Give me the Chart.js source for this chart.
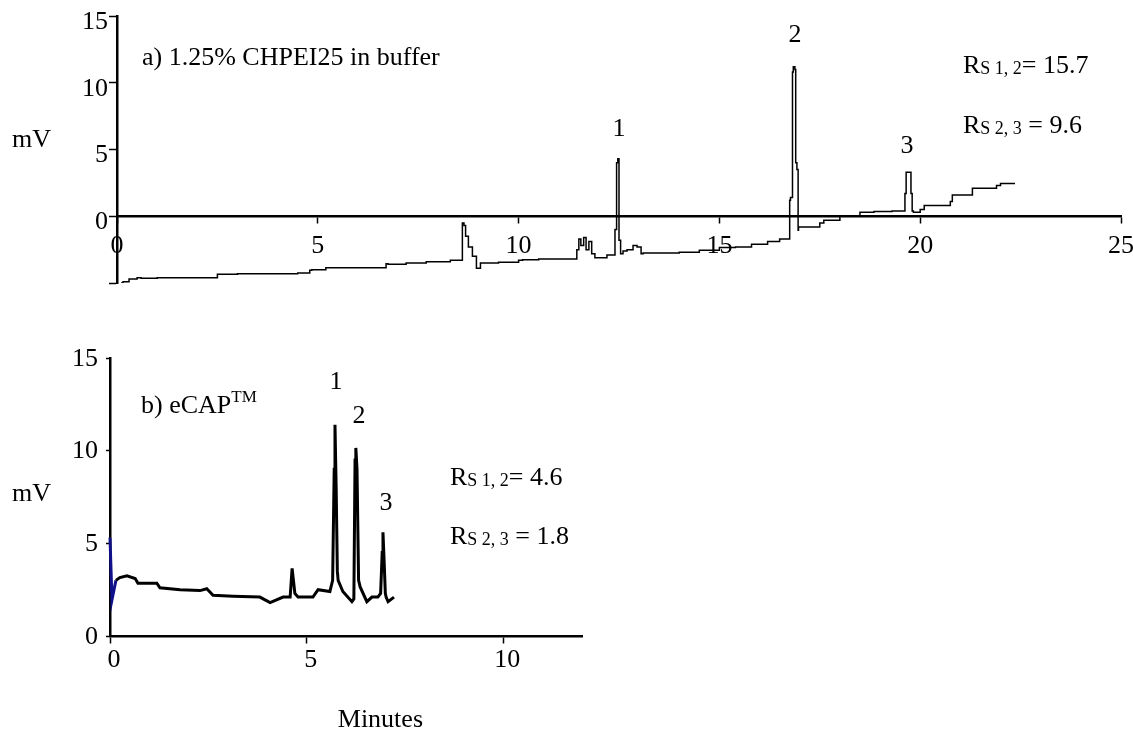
<!DOCTYPE html>
<html>
<head>
<meta charset="utf-8">
<script src="https://cdn.jsdelivr.net/npm/chart.js@4.4.1/dist/chart.umd.min.js"></script>
<style>
  body { margin: 0; background: #fff; }
  .panel { position: absolute; left: 0; }
  #wrapA { top: 0; }
  #wrapB { top: 330px; }
</style>
</head>
<body>
<div class="panel" id="wrapA"><canvas id="chartA" width="1133" height="310"></canvas></div>
<div class="panel" id="wrapB"><canvas id="chartB" width="1133" height="403"></canvas></div>
<script>
// panel a) 1.25% CHPEI25 in buffer
const topTime = [0.12, 0.15, 0.3, 0.5, 0.6, 1.0, 1.5, 2.0, 2.5, 2.55, 3.0, 3.5, 4.0, 4.5, 4.8, 4.85, 5.2, 5.5,
  6.0, 6.7, 6.75, 7.2, 7.7, 8.3, 8.6, 8.64, 8.68, 8.75, 8.85, 8.95, 9.05, 9.1, 9.5, 10.0, 10.1, 10.5, 11.0,
  11.45, 11.5, 11.55, 11.62, 11.68, 11.75, 11.82, 11.9, 12.0, 12.2, 12.4, 12.44, 12.47, 12.5, 12.54, 12.6,
  12.7, 12.85, 12.95, 13.05, 13.1, 13.5, 14.0, 14.5, 15.0, 15.4, 15.8, 16.2, 16.5, 16.75, 16.77, 16.82,
  16.84, 16.88, 16.9, 16.93, 16.96, 16.97, 17.13, 17.5, 17.6, 18.0, 18.5, 18.85, 19.3, 19.62, 19.65, 19.67,
  19.77, 19.8, 19.83, 20.0, 20.1, 20.3, 20.75, 20.8, 21.3, 21.9, 22.0, 22.36];
const topMv = [-5.9, -5.0, -4.9, -4.7, -4.6, -4.65, -4.6, -4.6, -4.6, -4.35, -4.35, -4.3, -4.3, -4.3, -4.25,
  -4.05, -4.0, -3.85, -3.85, -3.85, -3.55, -3.6, -3.5, -3.4, -3.3, -0.5, -0.7, -1.5, -2.3, -3.0, -3.9, -3.5,
  -3.5, -3.45, -3.3, -3.25, -3.2, -3.2, -2.5, -1.7, -2.2, -1.6, -2.5, -1.9, -2.8, -3.1, -3.1, -2.9, -1.0,
  4.0, 4.3, -1.8, -2.8, -2.6, -2.5, -2.2, -2.3, -2.8, -2.75, -2.75, -2.7, -2.55, -2.35, -2.3, -2.1, -1.9,
  -1.7, 1.2, 1.4, 10.8, 11.2, 11.0, 4.0, 3.5, -1.05, -0.8, -0.8, -0.5, -0.3, 0.0, 0.3, 0.35, 0.4, 1.7, 3.3,
  3.3, 1.7, 0.4, 0.3, 0.5, 0.8, 0.8, 1.1, 1.6, 2.1, 2.3, 2.45];

// panel b) eCAP
const blueTime = [0.0, 0.05, 0.15];
const blueMv = [5.3, 1.95, 3.0];
const bottomTime = [0.15, 0.25, 0.43, 0.64, 0.71, 1.19, 1.27, 1.78, 2.29, 2.46, 2.62, 3.13, 3.81, 4.07, 4.4,
  4.58, 4.63, 4.7, 4.78, 5.16, 5.29, 5.59, 5.66, 5.7, 5.72, 5.75, 5.78, 5.8, 5.92, 6.15, 6.2, 6.23, 6.25,
  6.28, 6.32, 6.36, 6.53, 6.66, 6.81, 6.88, 6.92, 6.94, 6.97, 7.0, 7.02, 7.07, 7.22];
const bottomMv = [3.0, 3.15, 3.25, 3.1, 2.85, 2.85, 2.6, 2.5, 2.45, 2.55, 2.2, 2.15, 2.1, 1.8, 2.1,
  2.1, 3.65, 2.3, 2.1, 2.1, 2.5, 2.4, 3.0, 9.0, 11.4, 8.0, 3.5, 3.0, 2.4, 1.85, 2.0, 9.5, 10.15,
  9.0, 3.0, 2.65, 1.85, 2.1, 2.1, 2.3, 4.5, 5.6, 4.0, 2.3, 2.1, 1.85, 2.1];

const topXTicks = [0, 5, 10, 15, 20, 25];
const topYTicks = [-5, 0, 5, 10, 15];
const bottomXTicks = [0, 5, 10];
const bottomYTicks = [0, 5, 10, 15];

const serif = '"Liberation Serif", "Times New Roman", serif';
const fs = 26;
const toPoints = (xs, ys) => xs.map((x, i) => ({ x: x, y: ys[i] }));

function drawParts(ctx, parts, x, y, align) {
  let cx = x;
  if (align === 'center' || align === 'right') {
    let w = 0;
    parts.forEach(p => { ctx.font = p[1] + 'px ' + serif; w += ctx.measureText(p[0]).width; });
    cx = align === 'center' ? x - w / 2 : x - w;
  }
  parts.forEach(p => {
    ctx.font = p[1] + 'px ' + serif;
    ctx.textAlign = 'left';
    ctx.textBaseline = 'alphabetic';
    ctx.fillStyle = '#000';
    ctx.fillText(p[0], cx, y + (p[2] || 0));
    cx += ctx.measureText(p[0]).width;
  });
}

function textPlugin(items) {
  return {
    id: 'labels',
    afterDraw(chart) {
      const ctx = chart.ctx;
      ctx.save();
      items.forEach(it => drawParts(ctx, it.parts, it.x, it.y, it.align));
      ctx.restore();
    }
  };
}

function yAxis(ticks, width, labelOffset, tickLen, pad, hideFirst) {
  return {
    type: 'linear',
    position: 'left',
    min: ticks[0],
    max: ticks[ticks.length - 1],
    afterBuildTicks: s => { s.ticks = ticks.map(v => ({ value: v })); },
    afterFit: s => { s.width = width; s.paddingTop = 0; s.paddingBottom = 0; },
    grid: { drawOnChartArea: false, drawTicks: true, tickLength: tickLen, tickWidth: 1.5, color: '#000' },
    border: { display: true, color: '#000', width: 2.5 },
    ticks: {
      color: '#000', padding: pad, labelOffset: labelOffset,
      font: { family: serif, size: fs },
      callback: v => (hideFirst && v === ticks[0]) ? '' : v
    }
  };
}

function xAxis(ticks, max, tickLen, pad, labelOffset) {
  return {
    type: 'linear',
    position: { y: 0 },
    min: 0,
    max: max,
    afterBuildTicks: s => { s.ticks = ticks.map(v => ({ value: v })); },
    afterFit: s => { s.paddingLeft = 0; s.paddingRight = 0; },
    grid: { drawOnChartArea: false, drawTicks: true, tickLength: tickLen, tickWidth: 1.5, color: '#000' },
    border: { display: true, color: '#000', width: 2.5 },
    ticks: { color: '#000', padding: pad, labelOffset: labelOffset, maxRotation: 0, font: { family: serif, size: fs } }
  };
}

const lineStyle = { borderColor: '#000', pointRadius: 0, tension: 0, fill: false };

new Chart(document.getElementById('chartA'), {
  type: 'line',
  data: {
    datasets: [Object.assign({ data: toPoints(topTime, topMv), borderWidth: 1.5, stepped: 'after' }, lineStyle)]
  },
  options: {
    responsive: false,
    animation: false,
    layout: { padding: { left: 0, right: 12, top: 16, bottom: 27 } },
    plugins: { legend: { display: false }, tooltip: { enabled: false } },
    scales: {
      x: xAxis(topXTicks, 25, 6, 8, 0),
      y: yAxis(topYTicks, 117, 6, 8, 1, true)
    }
  },
  plugins: [textPlugin([
    { parts: [['a) 1.25% CHPEI25 in buffer', fs]], x: 142, y: 65 },
    { parts: [['R', fs], ['S 1, 2', 18, 1], ['= 15.7', fs]], x: 963, y: 73 },
    { parts: [['R', fs], ['S 2, 3', 18, 1], [' = 9.6', fs]], x: 963, y: 133 },
    { parts: [['1', fs]], x: 619, y: 136, align: 'center' },
    { parts: [['2', fs]], x: 795, y: 42, align: 'center' },
    { parts: [['3', fs]], x: 907, y: 153, align: 'center' },
    { parts: [['mV', fs]], x: 12, y: 147 }
  ])]
});

new Chart(document.getElementById('chartB'), {
  type: 'line',
  data: {
    datasets: [
      Object.assign({ data: toPoints(bottomTime, bottomMv), borderWidth: 3 }, lineStyle),
      Object.assign({}, lineStyle, { data: toPoints(blueTime, blueMv), borderWidth: 3, borderColor: '#10108a', clip: false })
    ]
  },
  options: {
    responsive: false,
    animation: false,
    layout: { padding: { left: 0, right: 551, top: 28, bottom: 97 } },
    plugins: { legend: { display: false }, tooltip: { enabled: false } },
    scales: {
      x: xAxis(bottomXTicks, 12, 6, 3, 4),
      y: yAxis(bottomYTicks, 110, 1, 4, 8, false)
    }
  },
  plugins: [textPlugin([
    { parts: [['b) eCAP', fs], ['TM', 17, -11]], x: 141, y: 83 },
    { parts: [['R', fs], ['S 1, 2', 18, 1], ['= 4.6', fs]], x: 450, y: 155 },
    { parts: [['R', fs], ['S 2, 3', 18, 1], [' = 1.8', fs]], x: 450, y: 214 },
    { parts: [['1', fs]], x: 336, y: 59, align: 'center' },
    { parts: [['2', fs]], x: 359, y: 93, align: 'center' },
    { parts: [['3', fs]], x: 386, y: 180, align: 'center' },
    { parts: [['mV', fs]], x: 12, y: 171 },
    { parts: [['Minutes', fs]], x: 423, y: 397, align: 'right' }
  ])]
});
</script>
</body>
</html>
